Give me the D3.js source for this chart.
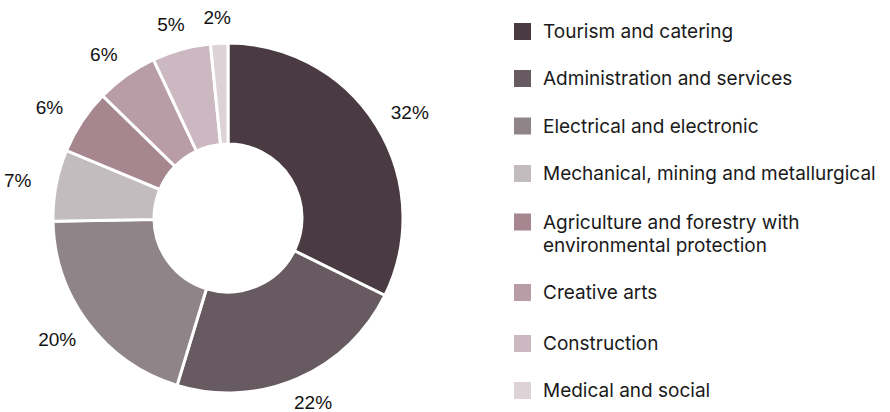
<!DOCTYPE html>
<html>
<head>
<meta charset="utf-8">
<script src="https://cdn.jsdelivr.net/npm/d3@7"></script>
<style>
  html, body { margin: 0; padding: 0; background: #ffffff; }
  svg { display: block; }
</style>
</head>
<body>
<svg id="chart" width="890" height="412"></svg>
<script>
const categories = [
  "Tourism and catering",
  "Administration and services",
  "Electrical and electronic",
  "Mechanical, mining and metallurgical",
  "Agriculture and forestry with environmental protection",
  "Creative arts",
  "Construction",
  "Medical and social"
];
const legendLines = [
  ["Tourism and catering"],
  ["Administration and services"],
  ["Electrical and electronic"],
  ["Mechanical, mining and metallurgical"],
  ["Agriculture and forestry with", "environmental protection"],
  ["Creative arts"],
  ["Construction"],
  ["Medical and social"]
];
const shares = [32.3, 22.4, 20.0, 6.6, 6.0, 5.7, 5.4, 1.6];
const colors = ["#4a3a42", "#675a61", "#8f8488", "#c2bcbe", "#a6868f", "#b89ca6", "#cbb8c0", "#ddd3d7"];

const svg = d3.select("#chart");
const cx = 228, cy = 218, outerR = 175, innerR = 74, labelR = 201, labelStretchX = 1.065;

const data = categories.map((c, i) => ({ name: c, value: shares[i], color: colors[i] }));
const pie = d3.pie().value(d => d.value).sort(null);
const arcs = pie(data);
const arc = d3.arc().innerRadius(innerR).outerRadius(outerR);
const labelArc = d3.arc().innerRadius(labelR).outerRadius(labelR);

const g = svg.append("g").attr("transform", `translate(${cx},${cy})`);
g.selectAll("path.slice").data(arcs).enter().append("path")
  .attr("class", "slice")
  .attr("d", arc)
  .attr("fill", d => d.data.color)
  .attr("stroke", "#ffffff")
  .attr("stroke-width", 3)
  .attr("stroke-linejoin", "miter");

g.selectAll("text.pct").data(arcs).enter().append("text")
  .attr("class", "pct")
  .attr("transform", d => {
    const [x, y] = labelArc.centroid(d);
    return `translate(${x * labelStretchX},${y})`;
  })
  .attr("text-anchor", "middle")
  .attr("dy", "0.35em")
  .attr("font-family", "'Liberation Sans', Arial, sans-serif")
  .attr("font-size", 19)
  .attr("fill", "#111111")
  .text(d => Math.round(d.data.value) + "%");

// legend
const rowY = [31.5, 78.5, 126, 173.5, 222, 292.5, 343.5, 390.5];
const lg = svg.append("g");
const rows = lg.selectAll("g.row").data(data).enter().append("g")
  .attr("class", "row")
  .attr("transform", (d, i) => `translate(514,${rowY[i]})`);
rows.append("rect")
  .attr("x", 0).attr("y", -8.5).attr("width", 17).attr("height", 17)
  .attr("fill", d => d.color);
rows.append("text")
  .attr("x", 29)
  .attr("font-family", "Inter, 'Noto Sans', sans-serif")
  .attr("font-size", 19)
  .attr("fill", "#1a1a1a")
  .each(function(d, i) {
    const t = d3.select(this);
    legendLines[i].forEach((line, j) => {
      t.append("tspan").attr("x", 29).attr("y", j * 23).attr("dy", "0.35em").text(line);
    });
  });
</script>
</body>
</html>
